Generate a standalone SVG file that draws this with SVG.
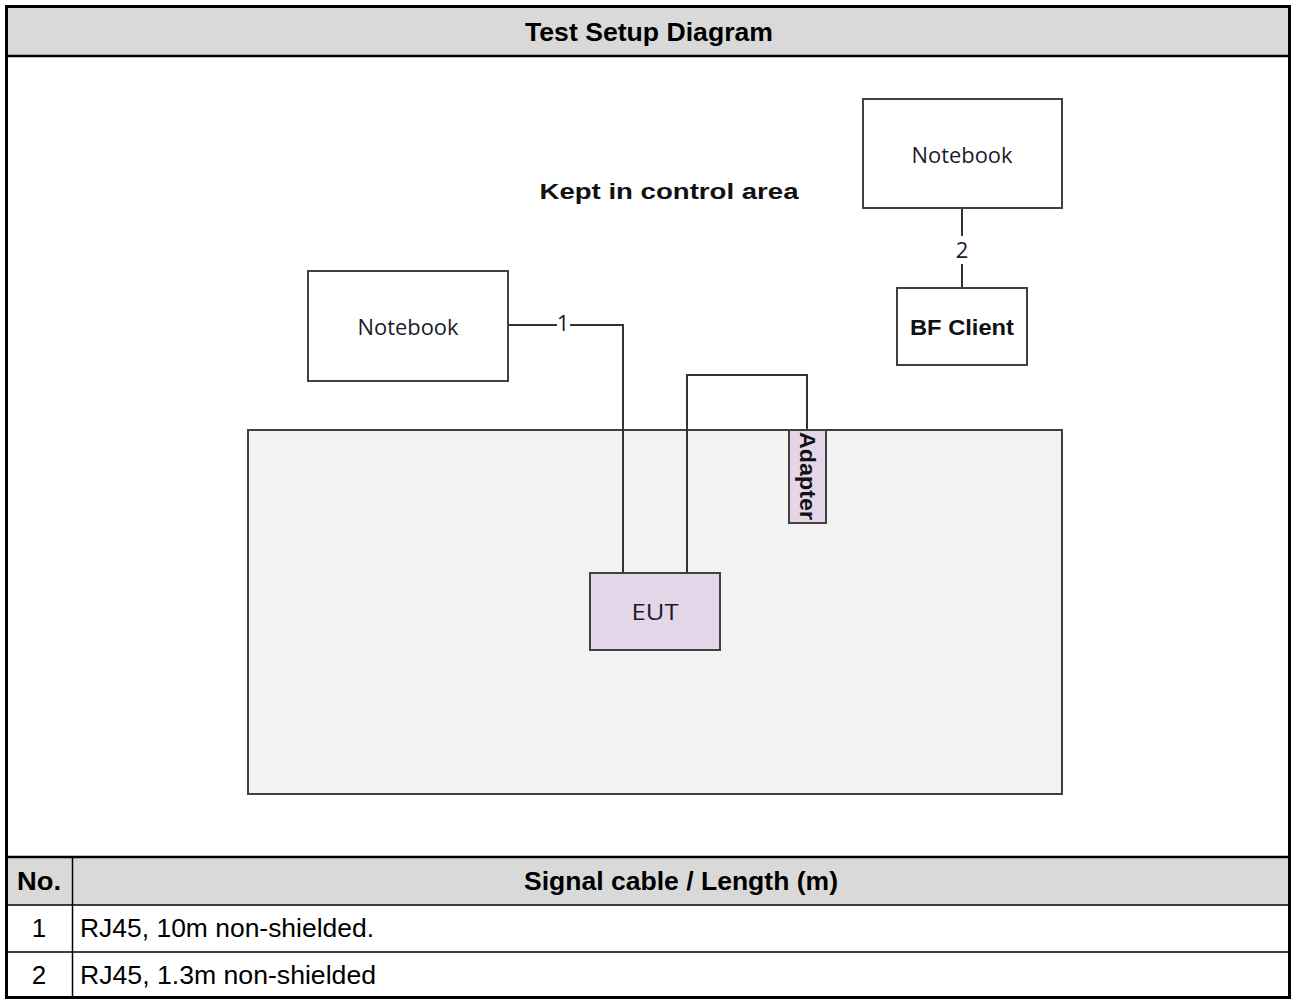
<svg xmlns="http://www.w3.org/2000/svg" width="1292" height="999" viewBox="0 0 1292 999">
<style>
.hdr{font-family:"Liberation Sans",Arial,sans-serif;font-size:26px;font-weight:bold;fill:#000}
.cell{font-family:"Liberation Sans",Arial,sans-serif;font-size:26px;fill:#000}
.box{fill:#fff;stroke:#404040;stroke-width:2}
.pbox{fill:#e4d6e8;stroke:#404040;stroke-width:2}
.lbl{font-family:"Open Sans","Noto Sans",sans-serif;font-size:22px;fill:#1a1a2a}
.blbl{font-family:"Liberation Sans",Arial,sans-serif;font-size:22px;font-weight:bold;fill:#111}
.wire{fill:none;stroke:#333;stroke-width:2}
</style>
<rect x="0" y="0" width="1292" height="999" fill="#fff"/>
<g id="frame">
<rect x="7" y="7" width="1282" height="49" fill="#d9d9d9"/>
<rect x="7" y="857" width="1282" height="48" fill="#d9d9d9"/>
<text class="hdr" x="649" y="41" text-anchor="middle" textLength="248" lengthAdjust="spacingAndGlyphs">Test Setup Diagram</text>
<text class="hdr" x="39" y="890" text-anchor="middle" textLength="44" lengthAdjust="spacingAndGlyphs">No.</text>
<text class="hdr" x="681" y="890" text-anchor="middle" textLength="314" lengthAdjust="spacingAndGlyphs">Signal cable / Length (m)</text>
<text class="cell" x="39" y="937" text-anchor="middle">1</text>
<text class="cell" x="80" y="937" textLength="294" lengthAdjust="spacingAndGlyphs">RJ45, 10m non-shielded.</text>
<text class="cell" x="39" y="984" text-anchor="middle">2</text>
<text class="cell" x="80" y="984" textLength="296" lengthAdjust="spacingAndGlyphs">RJ45, 1.3m non-shielded</text>
<g fill="none" stroke="#000">
<rect x="6.5" y="6.5" width="1283" height="991" stroke-width="3"/>
<line x1="6" y1="56" x2="1290" y2="56" stroke-width="2.5"/>
<line x1="6" y1="857" x2="1290" y2="857" stroke-width="2.5"/>
<line x1="6" y1="905" x2="1290" y2="905" stroke-width="1.5"/>
<line x1="6" y1="952" x2="1290" y2="952" stroke-width="1.5"/>
<line x1="72.5" y1="857" x2="72.5" y2="998" stroke-width="1.5"/>
</g>
</g>
<g id="area">
<rect x="248" y="430" width="814" height="364" fill="#f2f2f2" stroke="#404040" stroke-width="2"/>
<text x="669" y="199" text-anchor="middle" class="blbl" font-size="25" textLength="259" lengthAdjust="spacingAndGlyphs">Kept in control area</text>
</g>
<g id="connectors">
<path class="wire" d="M508 325 H557 M570 325 H623 V573"/>
<text x="563" y="331" text-anchor="middle" class="lbl" font-size="20">1</text>
<path class="wire" d="M687 573 V375 H807 V430"/>
<path class="wire" d="M962 208 V236 M962 264 V288"/>
<text x="962" y="258" text-anchor="middle" class="lbl" font-size="21">2</text>
</g>
<g id="notebook1">
<rect class="box" x="308" y="271" width="200" height="110"/>
<text class="lbl" x="408" y="335" text-anchor="middle" textLength="101" lengthAdjust="spacingAndGlyphs">Notebook</text>
</g>
<g id="notebook2">
<rect class="box" x="863" y="99" width="199" height="109"/>
<text class="lbl" x="962" y="163" text-anchor="middle" textLength="101" lengthAdjust="spacingAndGlyphs">Notebook</text>
</g>
<g id="bfclient">
<rect class="box" x="897" y="288" width="130" height="77"/>
<text class="blbl" x="962" y="335" text-anchor="middle" textLength="104" lengthAdjust="spacingAndGlyphs">BF Client</text>
</g>
<g id="eut">
<rect class="pbox" x="590" y="573" width="130" height="77"/>
<text class="lbl" x="655" y="620" text-anchor="middle" textLength="47" lengthAdjust="spacingAndGlyphs">EUT</text>
</g>
<g id="adapter">
<rect class="pbox" x="789" y="430" width="37" height="93"/>
<text class="blbl" font-size="19" transform="translate(800,476) rotate(90)" text-anchor="middle" textLength="88" lengthAdjust="spacingAndGlyphs">Adapter</text>
</g>
</svg>
